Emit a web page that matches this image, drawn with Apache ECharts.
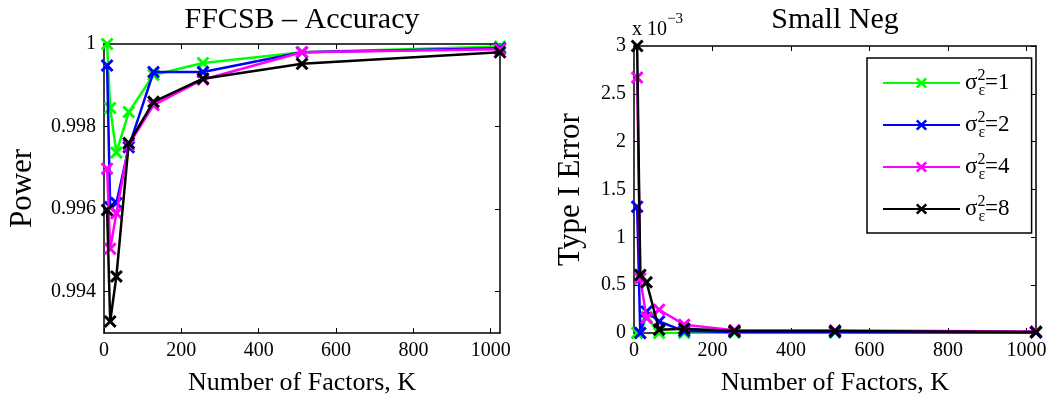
<!DOCTYPE html>
<html>
<head>
<meta charset="utf-8">
<script src="https://cdn.jsdelivr.net/npm/echarts@6/dist/echarts.min.js"></script>
<style>
html,body{margin:0;padding:0;background:#fff;}
#chart{width:1051px;height:402px;}
</style>
</head>
<body>
<div id="chart"></div>
<script>
// ---------- data ----------
const K = [8, 16, 32, 64, 128, 256, 512, 1024];
const seriesNames = ['s1', 's2', 's4', 's8'];
const sigmaValues = ['1', '2', '4', '8'];
const seriesColors = ['#00ff00', '#0000ff', '#ff00ff', '#000000'];

// Power (left panel)
const power1 = [1.00000, 0.99845, 0.99737, 0.99835, 0.99925, 0.99954, 0.99980, 0.99994];
const power2 = [0.99948, 0.99605, 0.99615, 0.99750, 0.99932, 0.99932, 0.99980, 0.99990];
const power4 = [0.99698, 0.99504, 0.99590, 0.99756, 0.99852, 0.99914, 0.99980, 0.99987];
const power8 = [0.99598, 0.99328, 0.99437, 0.99760, 0.99860, 0.99916, 0.99952, 0.99980];

// Type I error, in units of 1e-3 (right panel)
const err1 = [0.00, 0.00, 0.17, 0.00, 0.00, 0.005, 0.005, 0.005];
const err2 = [1.32, 0.00, 0.225, 0.12, 0.02, 0.01, 0.01, 0.005];
const err4 = [2.67, 0.57, 0.156, 0.243, 0.087, 0.03, 0.025, 0.015];
const err8 = [3.00, 0.607, 0.53, 0.035, 0.045, 0.02, 0.02, 0.01];

const xTicks = [0, 200, 400, 600, 800, 1000];
const powerTicks = [0.994, 0.996, 0.998, 1];
const errTicks = [0, 0.5, 1, 1.5, 2, 2.5, 3];

const leftTitle = 'FFCSB \u2013 Accuracy';
const rightTitle = 'Small Neg';
const xName = 'Number of Factors, K';
const leftYName = 'Power';
const rightYName = 'Type I Error';

// ---------- chart ----------
const FONT = 'Liberation Serif';
const chart = echarts.init(document.getElementById('chart'), null, {renderer: 'canvas'});

const xSymbol = 'path://M0,1.6L1.6,0L5,3.4L8.4,0L10,1.6L6.6,5L10,8.4L8.4,10L5,6.6L1.6,10L0,8.4L3.4,5Z';

function axisCommon() {
  return {
    axisLine: {show: true, onZero: false, lineStyle: {color: '#000', width: 1.5}},
    axisTick: {show: true, inside: true, length: 5, lineStyle: {color: '#000', width: 1}},
    splitLine: {show: false},
    axisLabel: {show: false},
  };
}

function xAxisDef(grid, pos, showLabels, name, nameGap, nameSize) {
  const a = Object.assign(axisCommon(), {
    type: 'value', gridIndex: grid, position: pos, min: 0, max: 1024,
    name: name, nameLocation: 'middle', nameGap: nameGap,
    nameTextStyle: {fontFamily: FONT, fontSize: nameSize, color: '#000'},
  });
  a.axisTick.customValues = xTicks;
  a.axisLabel = {show: showLabels, customValues: xTicks, margin: 8, fontFamily: FONT, fontSize: 20, color: '#000',
    formatter: v => String(v)};
  return a;
}

function yAxisDef(grid, pos, showLabels, min, max, ticks, name, nameGap) {
  const a = Object.assign(axisCommon(), {
    type: 'value', gridIndex: grid, position: pos, min: min, max: max,
    name: name, nameLocation: 'middle', nameGap: nameGap,
    nameTextStyle: {fontFamily: FONT, fontSize: 31, color: '#000'},
  });
  a.axisTick.customValues = ticks;
  a.axisLabel = {show: showLabels, customValues: ticks, margin: 8, fontFamily: FONT, fontSize: 20, color: '#000',
    formatter: v => String(+(+v).toFixed(4))};
  return a;
}

const powerData = [power1, power2, power4, power8];
const errData = [err1, err2, err4, err8];

function makeSeries(arr, i, axisIdx) {
  return {
    type: 'line', name: seriesNames[i], xAxisIndex: axisIdx, yAxisIndex: axisIdx,
    data: K.map((k, j) => [k, arr[j]]),
    symbol: xSymbol, symbolSize: 13, showAllSymbol: true,
    lineStyle: {width: 2.5, color: seriesColors[i]},
    itemStyle: {color: seriesColors[i]},
    emphasis: {disabled: true}, z: 2 + i,
  };
}

const series = [];
powerData.forEach((arr, i) => series.push(makeSeries(arr, i, 0)));
errData.forEach((arr, i) => series.push(makeSeries(arr, i, 2)));

const option = {
  animation: false,
  backgroundColor: '#fff',
  textStyle: {fontFamily: FONT, color: '#000'},
  title: [{
    text: '{a|x 10}{b|\u22123}',
    left: 632, top: 12, padding: 0,
    textStyle: {fontWeight: 'normal', rich: {
      a: {fontFamily: FONT, fontSize: 20, fontWeight: 'normal', color: '#000', lineHeight: 28, verticalAlign: 'bottom'},
      b: {fontFamily: FONT, fontSize: 15, fontWeight: 'normal', color: '#000', lineHeight: 15, verticalAlign: 'top'}
    }}
  }],
  grid: [
    {left: 104, top: 43, width: 396, height: 290},
    {left: 634, top: 45, width: 402, height: 288}
  ],
  xAxis: [
    xAxisDef(0, 'bottom', true, xName, 37, 26),
    xAxisDef(0, 'top', false, leftTitle, 9, 30),
    xAxisDef(1, 'bottom', true, xName, 37, 26),
    xAxisDef(1, 'top', false, rightTitle, 11, 30),
  ],
  yAxis: [
    yAxisDef(0, 'left', true, 0.993, 1, powerTicks, leftYName, 66),
    yAxisDef(0, 'right', false, 0.993, 1, powerTicks, '', 0),
    yAxisDef(1, 'left', true, 0, 3, errTicks, rightYName, 48),
    yAxisDef(1, 'right', false, 0, 3, errTicks, '', 0),
  ],
  legend: {
    show: true, orient: 'vertical', left: 867, top: 58,
    data: seriesNames,
    backgroundColor: '#fff', borderColor: '#000', borderWidth: 1.5, borderRadius: 0,
    padding: [7, 22, 6, 15],
    itemWidth: 77, itemHeight: 14, itemGap: 6,
    selectedMode: false,
    formatter: name => '{s|\u03c3}{p|2}{e|\u03b5}{t|=' + sigmaValues[seriesNames.indexOf(name)] + '}',
    textStyle: {
      fontFamily: FONT, color: '#000', lineHeight: 36,
      rich: {
        s: {fontFamily: FONT, fontSize: 23, color: '#000', lineHeight: 36, verticalAlign: 'middle'},
        p: {fontFamily: FONT, fontSize: 16, color: '#000', lineHeight: 16, width: 1, verticalAlign: 'top', padding: [3, 0, 0, 0]},
        e: {fontFamily: FONT, fontSize: 16, color: '#000', lineHeight: 16, verticalAlign: 'bottom', padding: [0, 0, 2, 0]},
        t: {fontFamily: FONT, fontSize: 23, color: '#000', lineHeight: 36, verticalAlign: 'middle'}
      }
    }
  },
  series: series
};
chart.setOption(option);
</script>
</body>
</html>
